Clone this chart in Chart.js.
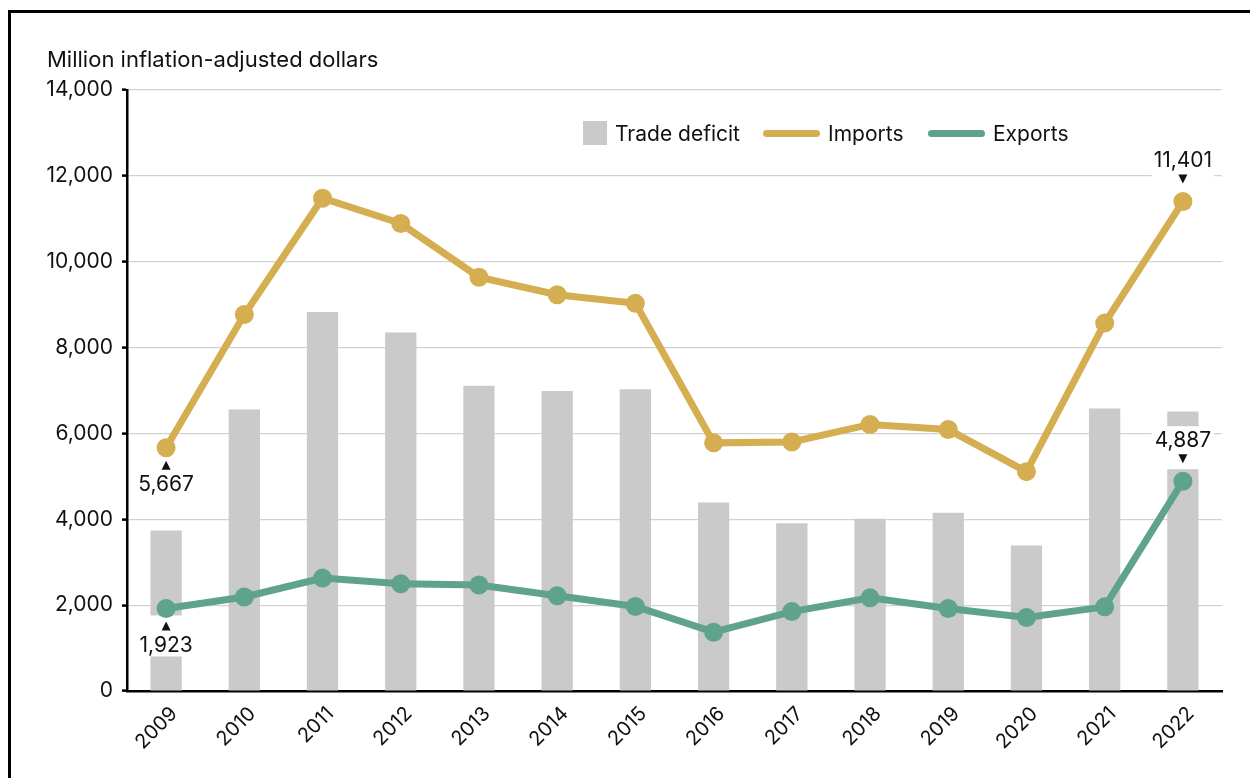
<!DOCTYPE html>
<html>
<head>
<meta charset="utf-8">
<script src="https://cdn.jsdelivr.net/npm/chart.js@4"></script>
<style>
  body { margin: 0; background: #fff; font-family: Inter, "Liberation Sans", Arial, sans-serif; }
  #wrap { position: relative; width: 1250px; height: 778px; overflow: hidden; }
  #frame { position: absolute; left: 8px; top: 10px; width: 1400px; height: 900px; border: 3px solid #000; box-sizing: border-box; }
  #chart { position: absolute; left: 0; top: 0; }
  .txt { position: absolute; font-size: 21px; color: #111; white-space: nowrap; line-height: 1; }
  .sw { position: absolute; }
</style>
</head>
<body>
<div id="wrap">
  <div id="frame"></div>
  <canvas id="chart" width="1250" height="778"></canvas>
  <div class="txt" style="left:47px; top:48px; font-size:22px;">Million inflation-adjusted dollars</div>
  <div class="sw" style="left:583px; top:121px; width:24px; height:24px; background:#c9cac9;"></div>
  <div class="txt" style="left:615px; top:123px;">Trade deficit</div>
  <div class="sw" style="left:763px; top:130px; width:57px; height:7px; border-radius:4px; background:#d4ae50;"></div>
  <div class="txt" style="left:828px; top:123px;">Imports</div>
  <div class="sw" style="left:928px; top:130px; width:57px; height:7px; border-radius:4px; background:#5fa38f;"></div>
  <div class="txt" style="left:993px; top:123px;">Exports</div>
</div>
<script>
// values
const years = ['2009', '2010', '2011', '2012', '2013', '2014', '2015', '2016', '2017', '2018', '2019', '2020', '2021', '2022'];
const tradeDeficit = [3740, 6560, 8830, 8350, 7110, 6990, 7030, 4390, 3910, 4010, 4150, 3390, 6580, 6510];
const imports = [5667, 8770, 11480, 10890, 9640, 9230, 9030, 5780, 5800, 6210, 6090, 5110, 8570, 11401];
const exports = [1923, 2190, 2630, 2500, 2470, 2220, 1970, 1370, 1850, 2170, 1920, 1710, 1960, 4887];
const yTicks = [0, 2000, 4000, 6000, 8000, 10000, 12000, 14000];

// value callouts: dataset index (1 = imports, 2 = exports), point index, side
const callouts = [
    { ds: 1, i: 0, side: 'below' },
    { ds: 2, i: 0, side: 'below' },
    { ds: 1, i: 13, side: 'above' },
    { ds: 2, i: 13, side: 'above' }
];

const FONT = 'Inter, "Liberation Sans", Arial, sans-serif';

function boxFor(pt, side) {
    if (side === 'below') return { x: pt.x - 31, y: pt.y + 7, w: 62, h: 41 };
    return { x: pt.x - 31, y: pt.y - 55, w: 62, h: 43 };
}

// white boxes go over the bars (and gridlines) but under the lines
const calloutPlugin = {
    id: 'callouts',
    afterDatasetDraw(chart, args) {
        if (args.index !== 0) return;
        const ctx = chart.ctx;
        ctx.save();
        ctx.fillStyle = '#fff';
        callouts.forEach(c => {
            const pt = chart.getDatasetMeta(c.ds).data[c.i];
            const b = boxFor(pt, c.side);
            ctx.fillRect(b.x, b.y, b.w, b.h);
        });
        ctx.restore();
    },
    afterDatasetsDraw(chart) {
        const ctx = chart.ctx;
        ctx.save();
        ctx.fillStyle = '#111';
        ctx.font = '21px ' + FONT;
        ctx.textAlign = 'center';
        ctx.textBaseline = 'middle';
        callouts.forEach(c => {
            const pt = chart.getDatasetMeta(c.ds).data[c.i];
            const value = chart.data.datasets[c.ds].data[c.i];
            const label = value.toLocaleString('en-US');
            ctx.beginPath();
            if (c.side === 'below') {
                ctx.moveTo(pt.x, pt.y + 13);
                ctx.lineTo(pt.x - 4.5, pt.y + 22);
                ctx.lineTo(pt.x + 4.5, pt.y + 22);
                ctx.fill();
                ctx.fillText(label, pt.x, pt.y + 37);
            } else {
                ctx.moveTo(pt.x, pt.y - 18);
                ctx.lineTo(pt.x - 4.5, pt.y - 27);
                ctx.lineTo(pt.x + 4.5, pt.y - 27);
                ctx.fill();
                ctx.fillText(label, pt.x, pt.y - 41);
            }
        });
        ctx.restore();
    }
};

const ctx = document.getElementById('chart').getContext('2d');
new Chart(ctx, {
    type: 'bar',
    data: {
        labels: years,
        datasets: [
            {
                type: 'bar',
                label: 'Trade deficit',
                data: tradeDeficit,
                backgroundColor: '#c9cac9',
                barPercentage: 0.4,
                categoryPercentage: 1,
                order: 3
            },
            {
                type: 'line',
                label: 'Imports',
                data: imports,
                borderColor: '#d4ae50',
                backgroundColor: '#d4ae50',
                borderWidth: 7,
                pointRadius: 9.5,
                pointBorderWidth: 0,
                tension: 0,
                order: 2
            },
            {
                type: 'line',
                label: 'Exports',
                data: exports,
                borderColor: '#5fa38f',
                backgroundColor: '#5fa38f',
                borderWidth: 7,
                pointRadius: 9.5,
                pointBorderWidth: 0,
                tension: 0,
                order: 1
            }
        ]
    },
    options: {
        responsive: false,
        animation: false,
        layout: { padding: { left: 0, top: 90, right: 28, bottom: 0 } },
        plugins: {
            legend: { display: false },
            tooltip: { enabled: false }
        },
        scales: {
            x: {
                offset: true,
                grid: { display: false },
                border: { display: true, color: '#000', width: 2.5 },
                ticks: {
                    color: '#111',
                    font: { family: FONT, size: 20 },
                    minRotation: 45,
                    maxRotation: 45,
                    padding: 3,
                    labelOffset: 8
                },
                afterFit(scale) { scale.height = 87; }
            },
            y: {
                min: 0,
                max: 14000,
                afterBuildTicks(scale) { scale.ticks = yTicks.map(v => ({ value: v })); },
                grid: {
                    color: '#d2d2d2',
                    lineWidth: 1.2,
                    tickColor: '#000',
                    tickLength: 5,
                    tickWidth: 2.5
                },
                border: { display: true, color: '#000', width: 2.5 },
                ticks: {
                    color: '#111',
                    font: { family: FONT, size: 21 },
                    padding: 9,
                    callback: v => v.toLocaleString('en-US')
                },
                afterFit(scale) { scale.width = 127; }
            }
        }
    },
    plugins: [calloutPlugin]
});
</script>
</body>
</html>
